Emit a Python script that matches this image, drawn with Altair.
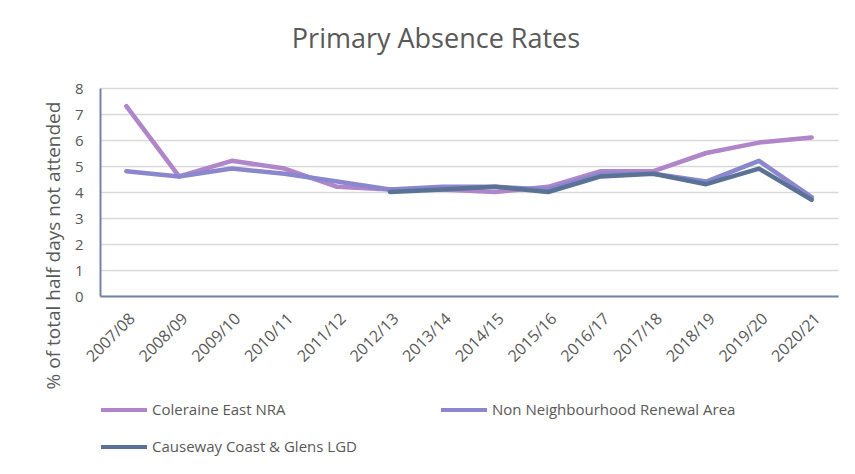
import altair as alt
import pandas as pd

years = ["2007/08", "2008/09", "2009/10", "2010/11", "2011/12", "2012/13", "2013/14",
         "2014/15", "2015/16", "2016/17", "2017/18", "2018/19", "2019/20", "2020/21"]
coleraine = [7.3, 4.6, 5.2, 4.9, 4.2, 4.1, 4.1, 4.0, 4.2, 4.8, 4.8, 5.5, 5.9, 6.1]
non_nra = [4.8, 4.6, 4.9, 4.7, 4.4, 4.1, 4.2, 4.2, 4.1, 4.7, 4.7, 4.4, 5.2, 3.8]
lgd = [None, None, None, None, None, 4.0, 4.1, 4.2, 4.0, 4.6, 4.7, 4.3, 4.9, 3.7]

series_names = ["Coleraine East NRA", "Non Neighbourhood Renewal Area", "Causeway Coast & Glens LGD"]
series_colors = ["#B085C9", "#8A87CC", "#5B7297"]
# legend fills column by column: order so that row 1 = Coleraine, Non NRA; row 2 = LGD
legend_order = [series_names[0], series_names[2], series_names[1]]
legend_colors = [series_colors[0], series_colors[2], series_colors[1]]

rows = []
for name, vals in zip(series_names, [coleraine, non_nra, lgd]):
    for y, v in zip(years, vals):
        if v is not None:
            rows.append({"Year": y, "Series": name, "Value": v})
df = pd.DataFrame(rows)

FONT = "Open Sans"
TXT = "#595959"

chart = alt.Chart(df).mark_line(strokeWidth=4.5, strokeCap="round", strokeJoin="round").encode(
    x=alt.X("Year:N", sort=years, title=None,
            axis=alt.Axis(labelAngle=-45, labelFontSize=16, labelColor=TXT, labelFont=FONT,
                          ticks=False, domainColor="#7384A6", domainWidth=2, labelPadding=14)),
    y=alt.Y("Value:Q", scale=alt.Scale(domain=[0, 8]),
            axis=alt.Axis(values=list(range(0, 9)), title="% of total half days not attended",
                          titleFont=FONT, titleFontSize=19, titleFontWeight="normal", titleColor=TXT,
                          titleAngle=270, titleX=-47, titleY=157, titleAlign="center",
                          titleBaseline="middle",
                          labelFontSize=15, labelColor=TXT, labelFont=FONT, labelPadding=17,
                          ticks=False, domainColor="#7384A6", domainWidth=2,
                          gridColor="#D9D9D9", gridWidth=1.5)),
    color=alt.Color("Series:N", scale=alt.Scale(domain=legend_order, range=legend_colors),
                    legend=alt.Legend(title=None, orient="none", legendX=12, legendY=310,
                                      columns=2, gridAlign="all", columnPadding=37,
                                      symbolType="M-2.3,0H2.3", symbolSize=400,
                                      symbolStrokeWidth=4, labelFont=FONT, labelFontSize=15,
                                      labelColor=TXT, labelLimit=400, labelOffset=16,
                                      rowPadding=17)),
).properties(
    width=738, height=208,
    title=alt.TitleParams("Primary Absence Rates", font=FONT, fontSize=27, fontWeight="normal",
                          color=TXT, anchor="middle", dx=-33, offset=6, baseline="alphabetic"),
    padding={"left": 92, "top": 80, "right": 9, "bottom": 162},
    autosize=alt.AutoSizeParams(type="none"),
).configure_view(stroke=None)

chart.save("out.html", embed_options={"renderer": "svg", "actions": False})
